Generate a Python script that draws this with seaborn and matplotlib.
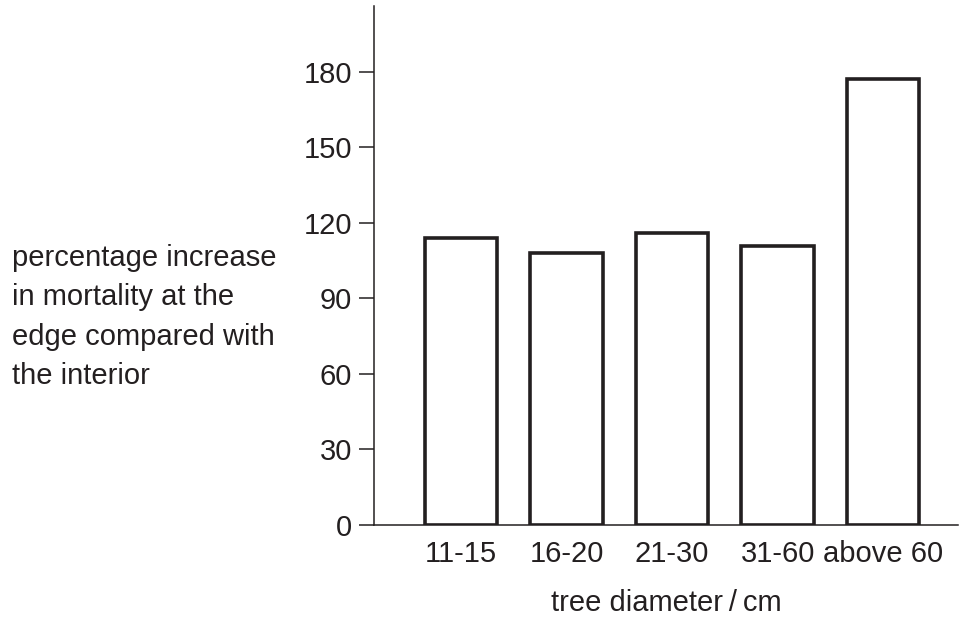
import matplotlib
matplotlib.use("Agg")
import matplotlib.pyplot as plt
import seaborn as sns
import pandas as pd

categories = ["11-15", "16-20", "21-30", "31-60", "above 60"]
values = [114, 108, 116, 111, 177]
yticks = [0, 30, 60, 90, 120, 150, 180]
ylabel_text = "percentage increase\nin mortality at the\nedge compared with\nthe interior"
xlabel_text = "tree diameter\u2009/\u2009cm"

sns.set_style("white")
plt.rcParams['font.family'] = ['Liberation Sans', 'DejaVu Sans']

df = pd.DataFrame({"diameter": categories, "value": values})

fig = plt.figure(figsize=(9.69, 6.18), dpi=100)
ax = fig.add_axes([374/969, 1 - 525/618, (958 - 374)/969, (525 - 6)/618])

sns.barplot(data=df, x="diameter", y="value", ax=ax, color="white",
            edgecolor="#231f20", linewidth=2.6, width=0.69, saturation=1)

fs = 21
ax.set_xlim(-0.825, 4.71)
ax.set_ylim(0, 206.2)
ax.set_yticks(yticks)
ax.set_yticklabels([str(t) for t in yticks])
ax.tick_params(axis="y", direction="out", length=10.5, width=1.1, color="#231f20",
               labelsize=fs, pad=5.5, left=True)
ax.tick_params(axis="x", length=0, labelsize=fs, pad=11)
for lab in ax.get_xticklabels() + ax.get_yticklabels():
    lab.set_color("#231f20")

for side in ["top", "right"]:
    ax.spines[side].set_visible(False)
for side in ["left", "bottom"]:
    ax.spines[side].set_color("#231f20")
    ax.spines[side].set_linewidth(1.1)

ax.set_ylabel("")
ax.set_xlabel(xlabel_text, fontsize=fs, color="#231f20", labelpad=15)

fig.text(12/969, 1 - 244/618, ylabel_text, ha="left", va="top",
         fontsize=fs, color="#231f20", linespacing=1.52)

fig.savefig("out.png", dpi=100, facecolor="white")
